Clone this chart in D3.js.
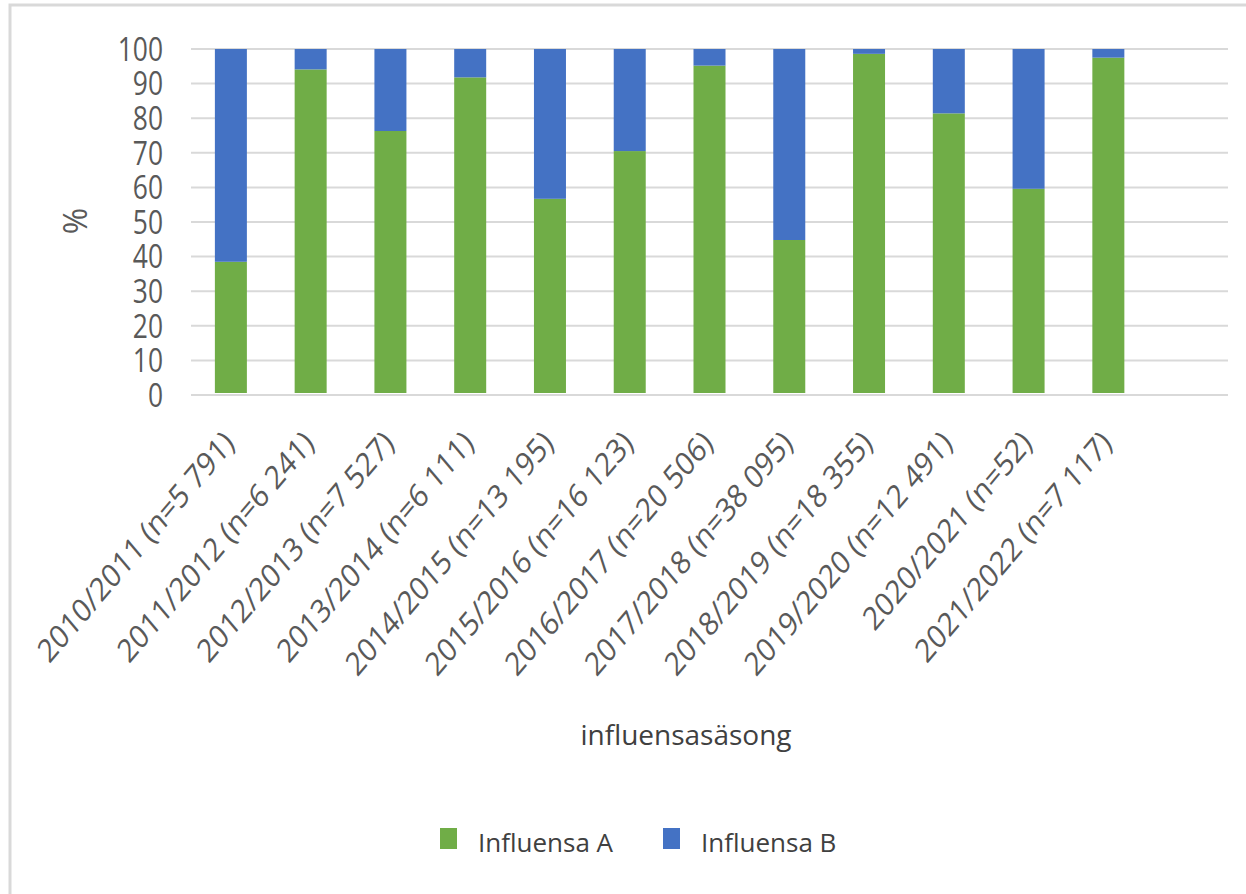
<!DOCTYPE html>
<html><head><meta charset="utf-8">
<script src="https://cdn.jsdelivr.net/npm/d3@7"></script>
<style>body{margin:0;background:#fff}svg{display:block}</style>
</head><body>
<svg id="c" width="1246" height="894"></svg>
<script>
const categories = ["2010/2011 (n=5 791)","2011/2012 (n=6 241)","2012/2013 (n=7 527)","2013/2014 (n=6 111)","2014/2015 (n=13 195)","2015/2016 (n=16 123)","2016/2017 (n=20 506)","2017/2018 (n=38 095)","2018/2019 (n=18 355)","2019/2020 (n=12 491)","2020/2021 (n=52)","2021/2022 (n=7 117)"];
const influensaA = [38.5, 94.1, 76.3, 91.8, 56.7, 70.5, 95.2, 44.8, 98.6, 81.4, 59.6, 97.5];
const influensaB = influensaA.map(v => 100 - v);
const yTicks = [0,10,20,30,40,50,60,70,80,90,100];
const seriesNames = ["Influensa A","Influensa B"];
const colors = ["#70AD47","#4472C4"];

const svg = d3.select("#c");
const SX = 0.8;   // horizontal squish of the original rendering (tick numbers)
const SXL = 0.85; // squish for the rotated category labels
const pLeft = 191, pRight = 1228, pTop = 49, pBottom = 395;

// border
svg.append("rect").attr("x",10).attr("y",5).attr("width",1300).attr("height",1000)
  .attr("fill","none").attr("stroke","#d9d9d9").attr("stroke-width",3);

// 13 slots, the last empty
const x = d3.scaleBand().domain(d3.range(13)).range([pLeft,pRight]).paddingInner(0.6).paddingOuter(0.3);
const y = d3.scaleLinear().domain([0,100]).range([pBottom, pTop]);

// gridlines
svg.append("g").selectAll("line").data(yTicks).join("line")
  .attr("x1",pLeft).attr("x2",pRight).attr("y1",d=>y(d)).attr("y2",d=>y(d))
  .attr("stroke","#d9d9d9").attr("stroke-width",2);

// stacked data
const rows = categories.map((c,i)=>({i, a: influensaA[i], b: influensaB[i]}));
const stack = d3.stack().keys(["a","b"])(rows);
const bw = 32;
svg.append("g").selectAll("g").data(stack).join("g").attr("fill",(d,k)=>colors[k])
  .selectAll("rect").data(d=>d).join("rect")
  .attr("x",d=>x(d.data.i)+x.bandwidth()/2-bw/2)
  .attr("width",bw)
  .attr("y",d=>y(d[1]))
  .attr("height",d=>Math.max(0,y(d[0])-y(d[1])) - (d[0]===0?2:0));

// y ticks
svg.append("g").selectAll("text").data(yTicks).join("text")
  .attr("transform",d=>`translate(163,${y(d)}) scale(${SX},1)`)
  .attr("text-anchor","end").attr("dy","0.36em")
  .attr("font-family","'Open Sans', sans-serif").attr("font-size",33)
  .attr("fill","#595959").text(d=>d);

// x labels
svg.append("g").selectAll("text").data(categories).join("text")
  .attr("transform",(d,i)=>`translate(${x(i)+x.bandwidth()/2+5},445) scale(${SXL},1) rotate(-45)`)
  .attr("text-anchor","end")
  .attr("font-family","'Open Sans', sans-serif").attr("font-size",32.6)
  .attr("fill","#595959").text(d=>d);

// y title
svg.append("text").attr("transform","translate(87,221) rotate(-90)")
  .attr("text-anchor","middle")
  .attr("font-family","'Open Sans', sans-serif").attr("font-size",32)
  .attr("fill","#595959").text("%");

// x title
svg.append("text").attr("x",686).attr("y",745).attr("text-anchor","middle")
  .attr("font-family","'Open Sans', sans-serif").attr("font-size",28)
  .attr("fill","#404040").text("influensasäsong");

// legend
const legX = [440, 663];
const lg = svg.append("g").selectAll("g").data(seriesNames).join("g")
  .attr("transform",(d,i)=>`translate(${legX[i]},828)`);
lg.append("rect").attr("width",17).attr("height",21).attr("fill",(d,i)=>colors[i]);
lg.append("text").attr("x",38).attr("y",24)
  .attr("font-family","'Open Sans', sans-serif").attr("font-size",26)
  .attr("fill","#404040").text(d=>d);
</script>
</body></html>
